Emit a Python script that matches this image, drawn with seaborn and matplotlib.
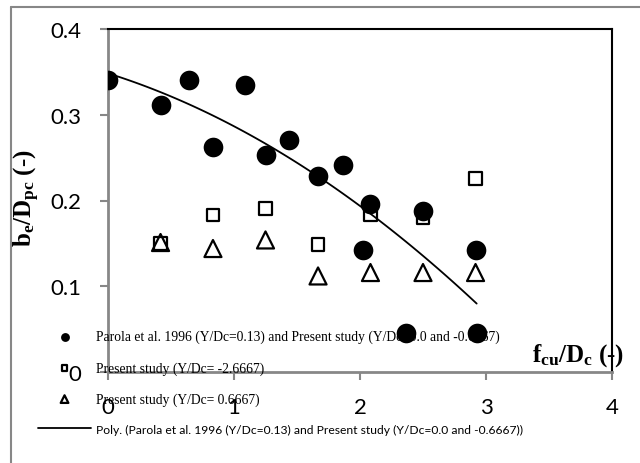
import numpy as np
import pandas as pd
import matplotlib
matplotlib.use("Agg")
import matplotlib.pyplot as plt
from matplotlib.lines import Line2D
import seaborn as sns

# ---------------- data ----------------
circ_x = [0.0, 0.417, 0.64, 0.833, 1.087, 1.25, 1.44, 1.667, 1.864, 2.083, 2.5, 2.02, 2.917, 2.365, 2.926]
circ_y = [0.341, 0.311, 0.340, 0.262, 0.335, 0.253, 0.270, 0.229, 0.241, 0.196, 0.188, 0.142, 0.142, 0.046, 0.046]

sq_x = [0.417, 0.833, 1.25, 1.667, 2.083, 2.5, 2.917]
sq_y = [0.150, 0.183, 0.191, 0.149, 0.184, 0.180, 0.226]

tri_x = [0.417, 0.833, 1.25, 1.667, 2.083, 2.5, 2.917]
tri_y = [0.151, 0.144, 0.154, 0.112, 0.116, 0.116, 0.116]

label_circ = "Parola et al. 1996 (Y/Dc=0.13) and Present study (Y/Dc=0.0 and -0.6667)"
label_sq = "Present study (Y/Dc= -2.6667)"
label_tri = "Present study (Y/Dc= 0.6667)"
label_poly = "Poly. (Parola et al. 1996 (Y/Dc=0.13) and Present study (Y/Dc=0.0 and -0.6667))"

x_ticks = [0, 1, 2, 3, 4]
y_ticks = [0, 0.1, 0.2, 0.3, 0.4]
y_tick_labels = ["0", "0.1", "0.2", "0.3", "0.4"]

# ---------------- style ----------------
sns.set_style("white")
plt.rcParams["font.family"] = ["Lato", "DejaVu Sans"]
plt.rcParams["mathtext.fontset"] = "custom"
plt.rcParams["mathtext.rm"] = "Liberation Serif"
plt.rcParams["mathtext.bf"] = "Liberation Serif:bold"
plt.rcParams["mathtext.it"] = "Liberation Serif:italic"
plt.rcParams["text.color"] = "black"
plt.rcParams["xtick.labelcolor"] = "black"
plt.rcParams["ytick.labelcolor"] = "black"

fig = plt.figure(figsize=(6.4, 4.64), dpi=100)
ax = fig.add_axes([108 / 640, 1 - 373 / 464, 504 / 640, 343 / 464])

grey = "#878787"

df_c = pd.DataFrame({"x": circ_x, "y": circ_y})
df_s = pd.DataFrame({"x": sq_x, "y": sq_y})
df_t = pd.DataFrame({"x": tri_x, "y": tri_y})

sns.scatterplot(data=df_c, x="x", y="y", ax=ax, marker="o", color="black",
                edgecolor="black", s=200, linewidth=0, label=label_circ, zorder=10)
sns.scatterplot(data=df_s, x="x", y="y", ax=ax, marker="s", facecolor="none",
                edgecolor="black", s=85, linewidth=1.6, label=label_sq, zorder=9)
sns.scatterplot(data=df_t, x="x", y="y", ax=ax, marker="^", facecolor="none",
                edgecolor="black", s=150, linewidth=1.6, label=label_tri, zorder=9)
sns.regplot(data=df_c, x="x", y="y", ax=ax, order=2, ci=None, scatter=False,
            color="black", line_kws={"linewidth": 1.3, "zorder": 8}, label=label_poly)

ax.set_xlim(0, 4)
ax.set_ylim(0, 0.4)
ax.set_xticks(x_ticks)
ax.set_xticklabels([str(v) for v in x_ticks])
ax.set_yticks(y_ticks)
ax.set_yticklabels(y_tick_labels)

ax.tick_params(axis="both", which="major", labelsize=16, color=grey, width=1.5,
               length=6, direction="out", bottom=True, left=True, labelcolor="black")
ax.tick_params(axis="x", pad=12)
ax.tick_params(axis="y", pad=13)

for s in ["left", "bottom"]:
    ax.spines[s].set_color(grey)
    ax.spines[s].set_linewidth(2)
for s in ["top", "right"]:
    ax.spines[s].set_color("black")
    ax.spines[s].set_linewidth(1.5)

ax.set_xlabel(r"$\mathbf{f_{cu}/D_c\ (\text{-})}$", fontsize=18, ha="center", va="center",
              color="black")
ax.xaxis.set_label_coords(0.933, 0.05)
ax.set_ylabel(r"$\mathbf{b_e/D_{pc}\ (\text{-})}$", fontsize=18, ha="center", va="center",
              color="black")
ax.yaxis.set_label_coords(-0.16, 0.51)

leg = ax.legend(loc="upper left", bbox_to_anchor=(38 / 640, 1 - 331 / 464),
                bbox_transform=fig.transFigure, frameon=False, fontsize=9.8,
                markerscale=0.45, scatterpoints=1, handlelength=3.9,
                handletextpad=0.35, labelspacing=1.3, borderpad=0, borderaxespad=0)
leg.set_zorder(5)
texts = leg.get_texts()
for t in texts[:3]:
    t.set_fontfamily(["Liberation Serif", "DejaVu Serif"])
texts[3].set_fontfamily(["Lato", "DejaVu Sans"])
texts[3].set_fontsize(8.7)

# outer chart-area border (partially visible)
fig.add_artist(Line2D([11 / 640, 11 / 640], [0, 1 - 8 / 464], transform=fig.transFigure,
                      color=grey, linewidth=1.5))
fig.add_artist(Line2D([11 / 640, 1], [1 - 8 / 464, 1 - 8 / 464], transform=fig.transFigure,
                      color=grey, linewidth=1.5))

fig.savefig("out.png", dpi=100)
